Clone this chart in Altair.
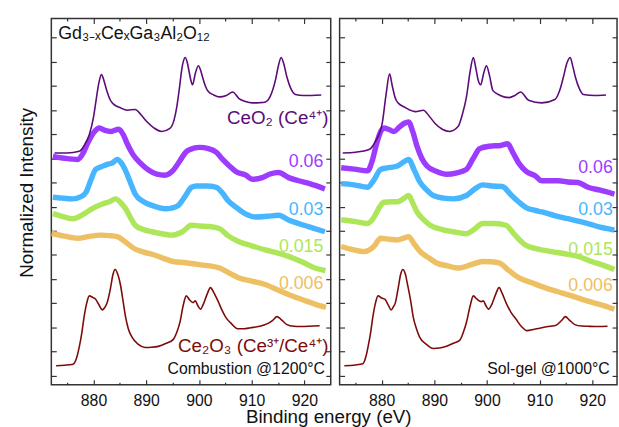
import altair as alt
import pandas as pd

FONT = "Liberation Sans"

# ---------------- Left panel (Combustion @1200 C) ----------------
L_CEO2_E = [872.6, 875.0, 877.3, 878.3, 879.2, 880.0, 880.4, 881.0, 881.5, 882.0, 882.5, 883.2, 883.9, 885.0, 886.4,
            887.9, 889.0, 890.1, 891.5, 892.9, 894.5, 895.3, 895.8, 896.3, 896.7, 897.1, 897.4, 897.8, 898.1, 898.5,
            898.8, 899.3, 899.9, 900.3, 900.7, 901.2, 901.7, 902.8, 903.9, 905.2, 906.4, 907.6, 908.8, 910.1, 911.5,
            912.6, 913.5, 914.5, 915.1, 915.6, 916.1, 916.7, 917.4, 918.3, 919.8, 921.4, 923.2]
L_CEO2_I = [9.22, 9.22, 9.29, 9.55, 9.97, 10.7, 11.27, 12.1, 12.46, 12.2, 11.81, 11.4, 11.22, 11.1, 10.99,
            11.02, 10.8, 10.52, 10.25, 10.11, 10.24, 10.6, 11.13, 11.9, 12.62, 13.05, 13.17, 12.95, 12.62, 12.2,
            12.04, 12.5, 12.83, 12.65, 12.35, 12.0, 11.78, 11.62, 11.54, 11.6, 11.74, 11.47, 11.35, 11.29, 11.3,
            11.33, 11.55, 12.22, 12.85, 13.17, 12.9, 12.35, 11.9, 11.64, 11.6, 11.6, 11.62]

L_006_E = [872.3, 874.5, 877.0, 878.0, 878.9, 880.0, 881.1, 882.2, 883.3, 884.8, 885.7, 886.4, 887.5, 888.9, 890.5,
           892.0, 893.5, 895.1, 896.4, 897.5, 898.3, 900.1, 901.8, 903.3, 904.5, 905.8, 907.0, 908.9, 910.1, 912.0,
           913.5, 915.1, 917.0, 918.9, 921.0, 923.9]
L_006_I = [9.08, 9.0, 8.95, 9.2, 9.63, 10.05, 10.25, 10.15, 10.11, 10.2, 9.95, 9.6, 9.15, 8.8, 8.5,
           8.34, 8.3, 8.5, 8.9, 9.25, 9.36, 9.45, 9.4, 9.25, 8.95, 8.68, 8.45, 8.3, 8.13, 8.2,
           8.35, 8.41, 8.2, 8.07, 7.95, 7.73]

L_003_E = [872.3, 874.0, 876.1, 877.5, 878.6, 879.5, 880.4, 881.5, 882.6, 883.5, 884.5, 885.3, 886.1, 887.0, 887.9,
           889.5, 891.1, 893.6, 895.0, 896.1, 897.3, 898.6, 899.5, 901.5, 903.3, 904.5, 905.5, 907.0, 908.8, 910.8,
           913.0, 915.1, 917.0, 918.9, 921.5, 923.9]
L_003_I = [7.39, 7.35, 7.32, 7.4, 7.6, 8.1, 8.54, 8.65, 8.75, 8.8, 8.95, 8.8, 8.48, 8.0, 7.52,
           7.2, 7.05, 6.91, 6.95, 7.05, 7.4, 7.8, 7.85, 7.85, 7.8, 7.55, 7.25, 6.98, 6.7, 6.57,
           6.6, 6.64, 6.45, 6.3, 6.12, 5.96]

L_0015_E = [872.3, 874.0, 876.1, 877.8, 879.2, 880.5, 881.7, 883.0, 884.2, 885.2, 886.1, 887.0, 887.9, 889.5, 891.1,
            893.0, 894.8, 896.8, 898.6, 900.1, 902.0, 903.9, 905.5, 907.6, 910.0, 912.6, 915.0, 917.0, 919.5, 922.0,
            924.0]
L_0015_I = [6.71, 6.6, 6.5, 6.65, 6.84, 7.0, 7.11, 7.2, 7.32, 7.15, 6.91, 6.55, 6.23, 6.05, 5.96,
            5.88, 5.82, 5.95, 6.23, 6.2, 6.18, 6.09, 5.8, 5.55, 5.38, 5.21, 5.08, 4.94, 4.72, 4.46,
            4.35]

L_0006_E = [872.0, 874.5, 877.0, 879.0, 881.4, 883.0, 884.5, 886.0, 887.6, 889.5, 891.4, 893.3, 895.1, 897.5, 900.1,
            902.0, 903.9, 905.8, 907.6, 910.0, 912.6, 915.0, 917.6, 920.0, 922.0, 924.1]
L_0006_I = [5.89, 5.78, 5.69, 5.76, 5.82, 5.8, 5.76, 5.55, 5.28, 5.12, 5.01, 4.86, 4.73, 4.68, 4.6,
            4.55, 4.46, 4.25, 4.05, 3.92, 3.78, 3.55, 3.31, 3.12, 2.97, 2.83]

L_CE2O3_E = [872.9, 874.5, 876.1, 876.8, 877.3, 877.8, 878.2, 878.7, 879.2, 879.8, 880.4, 881.0, 881.7, 882.2, 882.6,
             883.2, 883.7, 884.1, 884.6, 885.1, 885.6, 886.1, 886.6, 887.3, 888.5, 889.8, 891.0, 892.3, 893.8, 895.1,
             895.8, 896.4, 897.0, 897.6, 898.2, 898.9, 899.3, 899.8, 900.3, 900.8, 901.5, 902.2, 902.8, 903.6, 904.3,
             905.1, 906.2, 907.3, 908.5, 909.8, 911.5, 912.9, 914.0, 914.8, 915.5, 916.7, 918.0, 919.2, 921.0, 922.9]
L_CE2O3_I = [0.42, 0.44, 0.48, 0.75, 1.2, 1.8, 2.42, 3.0, 3.31, 3.25, 3.17, 2.95, 2.73, 2.85, 3.03,
             3.6, 4.2, 4.4, 4.2, 3.78, 3.1, 2.42, 1.95, 1.6, 1.3, 1.17, 1.18, 1.22, 1.35, 1.5,
             1.8, 2.22, 2.9, 3.31, 3.15, 3.03, 3.1, 2.9, 2.76, 2.95, 3.35, 3.65, 3.45, 3.1, 2.75,
             2.42, 2.15, 1.95, 1.95, 1.99, 2.05, 2.15, 2.3, 2.45, 2.35, 2.12, 2.05, 2.04, 2.05, 2.07]

# ---------------- Right panel (Sol-gel @1000 C) ----------------
R_CEO2_E = [872.6, 875.0, 877.6, 878.8, 880.1, 880.8, 881.5, 882.0, 882.6, 883.3, 884.2, 885.3, 886.4, 887.9, 889.0,
            890.1, 891.5, 892.9, 894.5, 895.3, 896.1, 896.8, 897.4, 897.9, 898.3, 898.8, 899.4, 899.9, 900.5, 901.1,
            902.5, 904.2, 905.3, 906.4, 907.9, 910.4, 912.9, 913.8, 914.5, 915.2, 915.8, 916.3, 916.8, 917.5, 918.3,
            920.5, 922.6]
R_CEO2_I = [9.22, 9.25, 9.36, 9.7, 10.45, 11.6, 12.49, 12.0, 11.47, 11.25, 11.13, 11.0, 10.93, 10.99, 10.75,
            10.45, 10.2, 10.11, 10.31, 10.8, 11.54, 12.6, 13.17, 12.7, 12.25, 12.04, 12.55, 12.83, 12.4, 11.81,
            11.6, 11.51, 11.6, 11.74, 11.4, 11.29, 11.43, 11.8, 12.35, 12.95, 13.17, 12.8, 12.35, 11.9, 11.64,
            11.6, 11.62]

R_006_E = [872.3, 874.8, 877.3, 878.2, 878.9, 879.6, 880.4, 881.3, 882.3, 883.4, 884.3, 885.1, 885.9, 886.7, 887.6,
           888.6, 890.5, 892.3, 894.3, 896.1, 897.4, 898.6, 900.5, 902.6, 903.9, 905.0, 906.1, 907.5, 909.2, 910.4,
           913.6, 915.4, 917.3, 919.2, 921.5, 924.2]
R_006_I = [8.61, 8.55, 8.48, 8.9, 9.5, 10.0, 10.25, 10.2, 10.11, 10.3, 10.45, 10.5, 10.1, 9.5, 9.0,
           8.68, 8.45, 8.34, 8.4, 8.54, 9.0, 9.4, 9.5, 9.53, 9.6, 9.2, 8.78, 8.45, 8.27, 8.07,
           8.07, 8.02, 8.0, 7.8, 7.68, 7.52]

R_003_E = [872.3, 874.8, 877.3, 878.5, 879.8, 881.0, 883.0, 884.2, 885.1, 886.2, 887.3, 888.5, 889.8, 891.8, 893.6,
           896.1, 897.5, 899.2, 901.0, 902.9, 904.5, 906.1, 907.5, 909.2, 910.4, 913.0, 915.4, 917.3, 919.2, 921.5,
           924.2]
R_003_I = [7.95, 7.9, 7.8, 8.1, 8.54, 8.6, 8.68, 8.85, 8.95, 8.5, 8.0, 7.7, 7.46, 7.35, 7.32,
           7.46, 7.7, 7.9, 7.85, 7.83, 7.5, 7.18, 6.95, 6.84, 6.78, 6.62, 6.5, 6.4, 6.3, 6.15,
           6.03]

R_0015_E = [872.3, 875.0, 877.3, 878.5, 879.5, 880.4, 882.0, 883.0, 884.3, 885.1, 885.9, 886.7, 888.0, 889.2, 891.5,
            893.6, 896.1, 897.5, 899.2, 901.5, 903.6, 905.2, 907.3, 909.5, 912.3, 914.8, 917.3, 920.0, 922.0, 924.2]
R_0015_I = [6.46, 6.38, 6.3, 6.55, 6.95, 7.18, 7.2, 7.2, 7.35, 7.46, 7.15, 6.78, 6.45, 6.23, 6.05,
            5.96, 5.88, 6.05, 6.3, 6.3, 6.23, 5.85, 5.41, 5.25, 5.14, 5.05, 4.94, 4.72, 4.58, 4.4]

R_0006_E = [872.3, 874.5, 876.7, 878.5, 879.8, 881.5, 883.0, 884.2, 885.1, 886.2, 887.3, 888.8, 890.4, 892.5, 894.8,
            897.0, 899.2, 900.8, 902.3, 904.2, 906.1, 908.5, 911.1, 913.5, 916.1, 919.0, 921.5, 924.2]
R_0006_I = [5.35, 5.22, 5.14, 5.35, 5.69, 5.65, 5.62, 5.7, 5.76, 5.45, 5.14, 4.9, 4.67, 4.55, 4.46,
            4.6, 4.73, 4.72, 4.67, 4.35, 4.05, 3.85, 3.64, 3.48, 3.31, 3.1, 2.95, 2.76]

R_CE2O3_E = [872.9, 875.0, 876.4, 877.0, 877.4, 877.9, 878.3, 878.8, 879.3, 880.0, 880.6, 881.2, 881.8, 882.2, 882.6,
             883.1, 883.6, 884.0, 884.5, 884.9, 885.5, 886.0, 886.6, 887.2, 888.5, 889.8, 891.0, 892.3, 893.6, 894.8,
             895.5, 896.1, 896.8, 897.4, 898.1, 898.9, 899.3, 899.8, 900.3, 900.9, 901.6, 902.3, 902.9, 903.6, 904.5,
             905.5, 906.5, 907.6, 909.0, 910.4, 912.0, 913.0, 914.2, 914.9, 915.6, 916.7, 918.0, 919.2, 921.0, 922.9]
R_CE2O3_I = [0.42, 0.45, 0.5, 0.8, 1.2, 1.8, 2.42, 3.0, 3.31, 3.22, 3.17, 2.95, 2.73, 2.85, 3.03,
             3.6, 4.2, 4.4, 4.2, 3.78, 3.1, 2.42, 1.95, 1.6, 1.3, 1.13, 1.15, 1.22, 1.35, 1.47,
             1.8, 2.22, 2.9, 3.31, 3.17, 3.07, 3.1, 2.9, 2.76, 2.95, 3.35, 3.65, 3.4, 3.03, 2.65,
             2.35, 2.05, 1.87, 1.93, 1.99, 2.05, 2.08, 2.3, 2.45, 2.32, 2.12, 2.06, 2.05, 2.04, 2.05]

XTICKS = [875, 880, 885, 890, 895, 900, 905, 910, 915, 920]
YTICKS = list(range(0, 15))

COLORS = {"CeO2": "#5c0b78", "0.06": "#9d3cff", "0.03": "#48b6ff",
          "0.015": "#aee65a", "0.006": "#eec064", "Ce2O3": "#7d0b0b"}
TICK_C = "#333333"

LEFT = {"0.006": (L_0006_E, L_0006_I), "0.015": (L_0015_E, L_0015_I), "0.03": (L_003_E, L_003_I),
        "0.06": (L_006_E, L_006_I), "CeO2": (L_CEO2_E, L_CEO2_I), "Ce2O3": (L_CE2O3_E, L_CE2O3_I)}
RIGHT = {"0.006": (R_0006_E, R_0006_I), "0.015": (R_0015_E, R_0015_I), "0.03": (R_003_E, R_003_I),
         "0.06": (R_006_E, R_006_I), "CeO2": (R_CEO2_E, R_CEO2_I), "Ce2O3": (R_CE2O3_E, R_CE2O3_I)}

Y_SCALE = alt.Scale(domain=[-0.37, 14.78], nice=False, zero=False)
MAJOR = "datum.value % 10 === 0"


def x_axis(orient, labels):
    return alt.Axis(orient=orient, values=XTICKS, offset=-5, tickSize=5, domain=False, grid=False,
                    tickColor=TICK_C, tickWidth=1.2,
                    tickDash={"condition": {"test": MAJOR, "value": [6, 0]}, "value": [0, 2.5, 6]},
                    labels=labels, labelExpr=f"{MAJOR} ? datum.label : ''",
                    labelFont=FONT, labelFontSize=16, labelColor="#111111", labelPadding=8,
                    title=None)


def y_axis(orient, title=None):
    kw = dict(orient=orient, values=YTICKS, offset=-5, tickSize=5, domain=False, grid=False,
              labels=False, tickColor=TICK_C, tickWidth=1.2)
    if title:
        kw.update(title=title, titleFont=FONT, titleFontSize=19, titleFontWeight="normal",
                  titleColor="#111111", titlePadding=14, titleY=176)
    else:
        kw["title"] = None
    return alt.Axis(**kw)


def panel(data, xscale, labels, with_ytitle):
    layers = []
    order = ["0.006", "0.015", "0.03", "0.06", "CeO2", "Ce2O3"]
    for k, name in enumerate(order):
        e_vals, i_vals = data[name]
        df = pd.DataFrame({"E": e_vals, "I": i_vals})
        if k == 0:
            xa, ya = x_axis("bottom", True), y_axis("left", "Normalized Intensity" if with_ytitle else None)
        elif k == 1:
            xa, ya = x_axis("top", False), y_axis("right")
        else:
            xa, ya = None, None
        noisy = name not in ("CeO2", "Ce2O3")
        layers.append(
            alt.Chart(df).mark_line(color=COLORS[name], strokeWidth=5.5 if noisy else 1.6,
                                    interpolate="monotone", strokeJoin="round", clip=True)
            .encode(x=alt.X("E:Q", scale=xscale, axis=xa),
                    y=alt.Y("I:Q", scale=Y_SCALE, axis=ya))
        )
    for txt, e, i, color, size, align in labels:
        layers.append(
            alt.Chart(pd.DataFrame({"t": [txt]}))
            .mark_text(align=align, baseline="alphabetic", font=FONT, fontSize=size, color=color)
            .encode(x=alt.XDatum(e, type="quantitative", scale=xscale, axis=None),
                    y=alt.YDatum(i, type="quantitative", scale=Y_SCALE, axis=None),
                    text="t:N")
        )
    return alt.layer(*layers).resolve_axis(x="independent", y="independent")


LEFT_LABELS = [
    ("Gd₃₋ₓCeₓGa₃Al₂O₁₂", 873.3, 13.92, "#111111", 18, "left"),
    ("CeO₂ (Ce⁴⁺)", 924.6, 10.41, COLORS["CeO2"], 19, "right"),
    ("0.06", 923.6, 8.63, COLORS["0.06"], 18, "right"),
    ("0.03", 923.6, 6.67, COLORS["0.03"], 18, "right"),
    ("0.015", 923.6, 5.14, COLORS["0.015"], 18, "right"),
    ("0.006", 923.6, 3.58, COLORS["0.006"], 18, "right"),
    ("Ce₂O₃ (Ce³⁺/Ce⁴⁺)", 924.6, 0.99, COLORS["Ce2O3"], 19, "right"),
    ("Combustion @1200°C", 923.9, 0.08, "#111111", 16, "right"),
]
RIGHT_LABELS = [
    ("0.06", 923.9, 8.41, COLORS["0.06"], 18, "right"),
    ("0.03", 923.9, 6.64, COLORS["0.03"], 18, "right"),
    ("0.015", 923.9, 5.01, COLORS["0.015"], 18, "right"),
    ("0.006", 923.9, 3.51, COLORS["0.006"], 18, "right"),
    ("Sol-gel @1000°C", 923.3, 0.08, "#111111", 16, "right"),
]

left = panel(LEFT, alt.Scale(domain=[872, 925], nice=False, zero=False), LEFT_LABELS, True).properties(
    width=283, height=371)
right = panel(RIGHT, alt.Scale(domain=[872, 924.7], nice=False, zero=False), RIGHT_LABELS, False).properties(
    width=281, height=371)

chart = (
    alt.hconcat(left, right, spacing=5)
    .properties(
        title=alt.TitleParams("Binding energy (eV)", orient="bottom", anchor="middle", font=FONT,
                              fontSize=19, fontWeight="normal", color="#111111", offset=-1, dx=11),
        padding={"left": 17, "top": 14, "right": 0, "bottom": 0},
        background="white",
    )
    .configure_view(stroke="#333333", strokeWidth=1.5)
)

chart.save("out.html", embed_options={"renderer": "svg", "actions": False})
